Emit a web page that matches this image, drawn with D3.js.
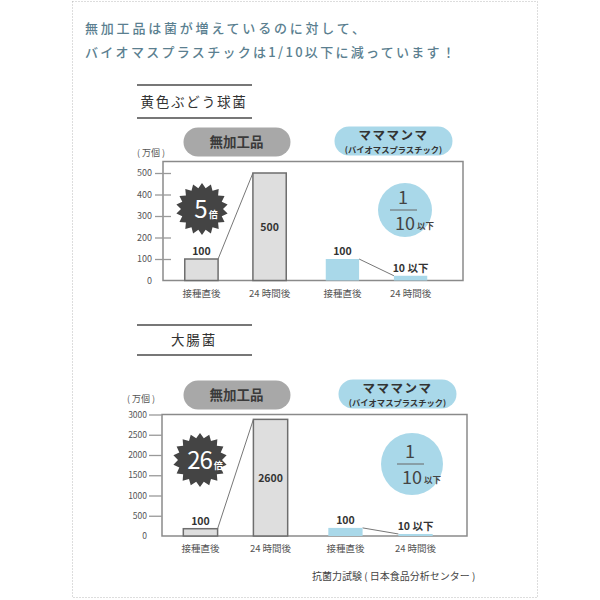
<!DOCTYPE html>
<html><head><meta charset="utf-8">
<script src="https://cdn.jsdelivr.net/npm/d3@7"></script>
<style>body{margin:0;background:#fff}svg{display:block}text{font-family:"Noto Sans CJK JP","Noto Sans",sans-serif}</style>
</head><body><svg id="c" width="600" height="600"></svg>
<script>
const titleLines = ["無加工品は菌が増えているのに対して、", "バイオマスプラスチックは1/10以下に減っています！"];
const groups = ["無加工品", "マママンマ"];
const groupSub = "(バイオマスプラスチック)";
const categories = ["接種直後", "24 時間後"];
const unitLabel = "( 万個 )";
const footer = "抗菌力試験 ( 日本食品分析センター )";

const staphTitle = "黄色ぶどう球菌";
const staphTicks = [0, 100, 200, 300, 400, 500];
const staphControl = [100, 500];
const staphBio = [100, 22];
const staphControlLabels = ["100", "500"];
const staphBioLabels = ["100", "10 以下"];
const staphTimes = "5";

const ecoliTitle = "大腸菌";
const ecoliTicks = [0, 500, 1000, 1500, 2000, 2500, 3000];
const ecoliControl = [180, 2880];
const ecoliBio = [200, 50];
const ecoliControlLabels = ["100", "2600"];
const ecoliBioLabels = ["100", "10 以下"];
const ecoliTimes = "26";

const svg = d3.select("#c");
const GRAY_BAR = "#dedede", BLUE = "#a9d8e9", PILL_GRAY = "#a8a8a8";

// outer dotted border
svg.append("rect").attr("x", 72.5).attr("y", 1.5).attr("width", 465).attr("height", 596)
  .attr("fill", "none").attr("stroke", "#bbb").attr("stroke-dasharray", "1,2");

// title
svg.selectAll("text.title").data(titleLines).join("text").attr("class", "title")
  .attr("x", 85).attr("y", (d, i) => 33 + i * 24)
  .attr("fill", "#5b7f90").attr("font-size", 13).attr("font-weight", 500)
  .attr("letter-spacing", (d, i) => i === 0 ? 2.8 : 2.3).text(d => d);

function heading(text, yTop, yBot) {
  const g = svg.append("g");
  [yTop, yBot].forEach(y => g.append("line").attr("x1", 137).attr("x2", 252).attr("y1", y).attr("y2", y)
    .attr("stroke", "#777").attr("stroke-width", 2));
  g.append("text").attr("x", 194).attr("y", (yTop + yBot) / 2 + 5).attr("text-anchor", "middle")
    .attr("font-size", 13.5).attr("fill", "#333").attr("letter-spacing", 1.8).text(text);
}

function star(g, cx, cy, r1, r2, n) {
  const pts = d3.range(n * 2).map(i => {
    const a = Math.PI * i / n - Math.PI / 2;
    const r = i % 2 === 0 ? r1 : r2;
    return [cx + r * Math.cos(a), cy + r * Math.sin(a)];
  });
  g.append("path").attr("d", d3.line()(pts) + "Z").attr("fill", "#444");
}

function chart(cfg) {
  const g = svg.append("g");
  const y = d3.scaleLinear().domain([0, cfg.ticks[cfg.ticks.length - 1]]).range([cfg.y0, cfg.yTop]);
  const xg = d3.scaleBand().domain(groups).range([cfg.gx0, cfg.gx1]);
  const xi = d3.scaleBand().domain(categories).range([0, xg.bandwidth()]).paddingInner(0.511).paddingOuter(0.29);
  const frameTop = cfg.frameTop;
  // frame
  g.append("rect").attr("x", cfg.left).attr("y", frameTop).attr("width", cfg.right - cfg.left)
    .attr("height", cfg.y0 - frameTop).attr("fill", "none").attr("stroke", "#8a8a8a").attr("stroke-width", 1.5);
  // y axis ticks
  const ax = d3.axisLeft(y).tickValues(cfg.ticks).tickSize(cfg.tickLen).tickPadding(cfg.tickPad).tickFormat(d3.format("d"));
  const axg = g.append("g").attr("transform", `translate(${cfg.left + cfg.tickIn},0)`).call(ax);
  axg.select(".domain").remove();
  axg.selectAll(".tick line").attr("stroke", "#999").attr("stroke-width", 1.3)
    .attr("display", d => d === 0 ? "none" : null);
  axg.selectAll(".tick text").attr("fill", "#555").attr("font-size", cfg.tickFont)
    .attr("font-family", "'Open Sans',sans-serif");
  g.append("text").attr("x", cfg.unitX).attr("y", frameTop - cfg.unitDy).attr("font-size", 9).attr("fill", "#555").text(unitLabel);

  const series = [
    {grp: groups[0], vals: cfg.control, labels: cfg.controlLabels, fill: GRAY_BAR, stroke: "#6e6e6e"},
    {grp: groups[1], vals: cfg.bio, labels: cfg.bioLabels, fill: BLUE, stroke: "none"}
  ];
  series.forEach((s, si) => {
    const bx = c => xg(s.grp) + xi(c);
    const bw = xi.bandwidth();
    // connector
    g.append("line").attr("x1", bx(categories[0]) + bw).attr("y1", y(s.vals[0]))
      .attr("x2", bx(categories[1])).attr("y2", y(s.vals[1])).attr("stroke", "#777").attr("stroke-width", 1);
    g.selectAll(null).data(s.vals).join("rect")
      .attr("x", (d, i) => bx(categories[i])).attr("y", d => y(d))
      .attr("width", bw).attr("height", d => cfg.y0 - y(d))
      .attr("fill", s.fill).attr("stroke", s.stroke).attr("stroke-width", 1.5);
    g.selectAll(null).data(s.vals).join("text")
      .attr("x", (d, i) => bx(categories[i]) + bw / 2)
      .attr("y", (d, i) => (si === 0 && i === 1) ? (y(d) + cfg.y0) / 2 + 4 : y(d) - 4)
      .attr("text-anchor", "middle").attr("font-size", 10.5).attr("font-weight", 700).attr("fill", "#333")
      .text((d, i) => s.labels[i]);
    g.selectAll(null).data(categories).join("text")
      .attr("x", c => bx(c) + bw / 2).attr("y", cfg.y0 + 16).attr("text-anchor", "middle")
      .attr("font-size", 9.5).attr("fill", "#555").text(c => c);
  });

  // pills
  const gc0 = xg(groups[0]) + xg.bandwidth() / 2 + 1;
  const gc1 = xg(groups[1]) + xg.bandwidth() / 2 + 17;
  g.append("rect").attr("x", gc0 - 53).attr("y", frameTop - 34).attr("width", 107).attr("height", 29)
    .attr("rx", 14.5).attr("fill", PILL_GRAY);
  g.append("text").attr("x", gc0).attr("y", frameTop - 14.5).attr("text-anchor", "middle")
    .attr("font-size", 13.5).attr("font-weight", 700).attr("fill", "#3a3a3a").text(groups[0]);
  g.append("rect").attr("x", gc1 - 59).attr("y", frameTop - 35).attr("width", 118).attr("height", 29)
    .attr("rx", 14.5).attr("fill", BLUE);
  g.append("text").attr("x", gc1).attr("y", frameTop - 22).attr("text-anchor", "middle")
    .attr("font-size", 12.5).attr("font-weight", 700).attr("letter-spacing", 1.5).attr("fill", "#333").text(groups[1]);
  g.append("text").attr("x", gc1).attr("y", frameTop - 9).attr("text-anchor", "middle")
    .attr("font-size", 8.3).attr("font-weight", 700).attr("fill", "#333").text(groupSub);

  // star
  star(g, cfg.starX, cfg.starY, cfg.starR, cfg.starR - 5, 18);
  const st = g.append("text").attr("x", cfg.starX + cfg.starTx).attr("y", cfg.starY + 9).attr("text-anchor", "middle")
    .attr("fill", "#fff").attr("font-family", "'Open Sans',sans-serif");
  st.append("tspan").attr("font-size", cfg.starFont).attr("letter-spacing", -1).text(cfg.times);
  st.append("tspan").attr("font-size", 9).attr("font-weight", 700).attr("dx", 2)
    .attr("font-family", "'Noto Sans CJK JP',sans-serif").text("倍");

  // circle
  const cx = cfg.cx, cy = cfg.cy;
  g.append("circle").attr("cx", cx).attr("cy", cy).attr("r", cfg.cr).attr("fill", BLUE);
  g.append("text").attr("x", cx - 2).attr("y", cy - 6).attr("text-anchor", "middle").attr("font-size", 18)
    .attr("fill", "#444").attr("font-family", "'Open Sans',sans-serif").text("1");
  g.append("line").attr("x1", cx - 15).attr("x2", cx + 12).attr("y1", cy).attr("y2", cy)
    .attr("stroke", "#666").attr("stroke-width", 1);
  g.append("text").attr("x", cx - 10).attr("y", cy + 20).attr("font-size", 18)
    .attr("fill", "#444").attr("font-family", "'Open Sans',sans-serif").text("10");
  g.append("text").attr("x", cx + 12).attr("y", cy + 19).attr("font-size", 8.5).attr("font-weight", 700)
    .attr("fill", "#444").text("以下");
}

heading(staphTitle, 85, 118);
chart({ticks: staphTicks, control: staphControl, bio: staphBio, controlLabels: staphControlLabels,
  bioLabels: staphBioLabels, times: staphTimes, y0: 280.5, yTop: 173, frameTop: 161.5, left: 163, right: 463,
  gx0: 165, gx1: 447, tickLen: 16, tickIn: 8, tickPad: 3, tickFont: 9, unitX: 137, unitDy: 6,
  starX: 202, starY: 209, starR: 26, starTx: 4, starFont: 24, cx: 405, cy: 210, cr: 27});
heading(ecoliTitle, 325, 355);
chart({ticks: ecoliTicks, control: ecoliControl, bio: ecoliBio, controlLabels: ecoliControlLabels,
  bioLabels: ecoliBioLabels, times: ecoliTimes, y0: 536, yTop: 414.5, frameTop: 414.5, left: 162, right: 467,
  gx0: 163, gx1: 453, tickLen: 13, tickIn: 0, tickPad: 2, tickFont: 8.5, unitX: 127, unitDy: 13,
  starX: 200, starY: 460, starR: 27, starTx: 5, starFont: 24, cx: 412, cy: 464, cr: 31});

svg.append("text").attr("x", 312).attr("y", 580).attr("font-size", 10).attr("fill", "#444").text(footer);
</script></body></html>
